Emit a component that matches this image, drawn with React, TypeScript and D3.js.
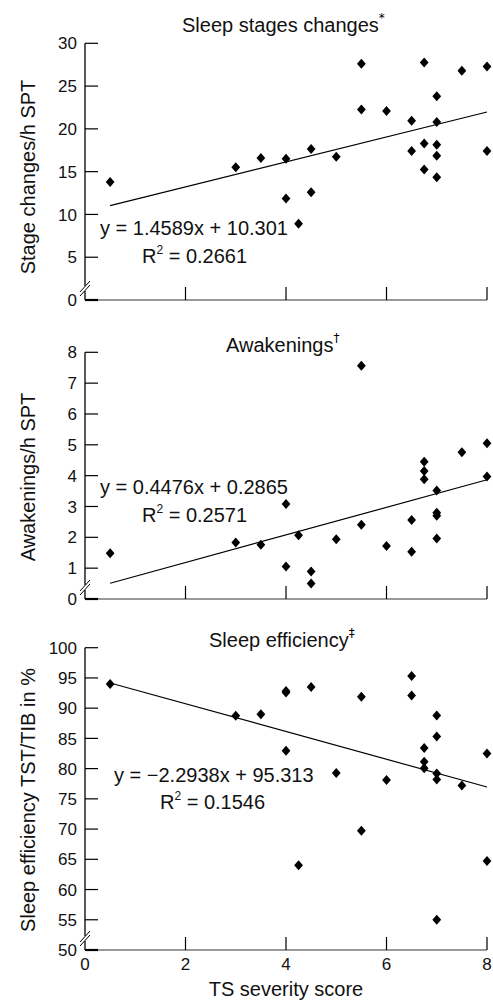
import React, { useEffect, useRef } from "react";
import * as d3 from "d3";

// TS severity score for each subject, per panel
const severityStages = [0.5, 3, 3.5, 4, 4, 4.25, 4.5, 4.5, 5, 5.5, 5.5, 6, 6.5, 6.5, 6.75, 6.75, 6.75, 7, 7, 7, 7, 7, 7.5, 8, 8];
const stageChanges = [13.8, 15.5, 16.6, 16.5, 11.85, 8.9, 17.65, 12.6, 16.75, 27.6, 22.25, 22.1, 20.96, 17.4, 27.75, 18.3, 15.25, 23.8, 20.8, 18.15, 16.85, 14.35, 26.8, 27.3, 17.4];

const severityAwake = [0.5, 3, 3.5, 4, 4, 4.25, 4.5, 4.5, 5, 5.5, 5.5, 6, 6.5, 6.5, 6.75, 6.75, 6.75, 7, 7, 7, 7, 7.5, 8, 8];
const awakenings = [1.48, 1.83, 1.76, 3.08, 1.05, 2.07, 0.89, 0.5, 1.94, 7.56, 2.41, 1.72, 2.56, 1.53, 4.45, 4.15, 3.88, 3.52, 2.8, 2.7, 1.96, 4.76, 5.05, 3.97];

const severityEff = [0.5, 3, 3.5, 4, 4, 4, 4.25, 4.5, 5, 5.5, 5.5, 6, 6.5, 6.5, 6.75, 6.75, 6.75, 7, 7, 7, 7, 7, 7.5, 8, 8];
const efficiency = [94.0, 88.75, 89.0, 92.85, 92.6, 82.97, 64.0, 93.5, 79.27, 91.9, 69.73, 78.1, 95.3, 92.1, 83.4, 81.15, 80.05, 88.8, 85.3, 79.2, 78.2, 55.0, 77.2, 82.5, 64.7];

const titles = ["Sleep stages changes", "Awakenings", "Sleep efficiency"];
const titleMarks = ["*", "\u2020", "\u2021"];
const yLabels = ["Stage changes/h SPT", "Awakenings/h SPT", "Sleep efficiency TST/TIB in %"];
const slopes = [1.4589, 0.4476, -2.2938];
const intercepts = [10.301, 0.2865, 95.313];
const equations = ["y = 1.4589x + 10.301", "y = 0.4476x + 0.2865", "y = \u22122.2938x + 95.313"];
const rSquared = ["0.2661", "0.2571", "0.1546"];
const yTicks = [
  [0, 5, 10, 15, 20, 25, 30],
  [0, 1, 2, 3, 4, 5, 6, 7, 8],
  [50, 55, 60, 65, 70, 75, 80, 85, 90, 95, 100],
];
const xTicks = [0, 2, 4, 6, 8];

const W = 493;
const H = 1003;
const FONT = "'Liberation Sans', Arial, Helvetica, sans-serif";

const App = () => {
  const ref = useRef<SVGSVGElement>(null);

  useEffect(() => {
    const svg = d3.select(ref.current);
    svg.selectAll("*").remove();

    const x = d3.scaleLinear().domain([0, 8]).range([85, 487]);

    const panels = [
      { xs: severityStages, ys: stageChanges, domain: [0, 30], range: [300, 43.3], titleX: 182, titleY: 31.5, eqX: 100, eqY: 235, rX: 142, rY: 262.5, labelY: 177, showX: false },
      { xs: severityAwake, ys: awakenings, domain: [0, 8], range: [599, 352.3], titleX: 226, titleY: 351.5, eqX: 100, eqY: 493.5, rX: 142, rY: 521.5, labelY: 477, showX: false },
      { xs: severityEff, ys: efficiency, domain: [50, 100], range: [950, 647.7], titleX: 209, titleY: 646.5, eqX: 114, eqY: 782, rX: 160, rY: 808.5, labelY: 800, showX: true },
    ];

    panels.forEach((p, i) => {
      const y = d3.scaleLinear().domain(p.domain).range(p.range);
      const b = y(p.domain[0]);
      const g = svg.append("g").attr("font-family", FONT).attr("fill", "#111");

      // y axis with break
      g.append("line").attr("x1", 85).attr("x2", 85).attr("y1", y(p.domain[1])).attr("y2", b - 14)
        .attr("stroke", "#000").attr("stroke-width", 1.3);
      g.append("line").attr("x1", 85).attr("x2", 85).attr("y1", b - 9).attr("y2", b)
        .attr("stroke", "#000").attr("stroke-width", 1.3);
      [0, 4].forEach((o) => {
        g.append("line").attr("x1", 80).attr("y1", b - 8 + o).attr("x2", 90).attr("y2", b - 19 + o)
          .attr("stroke", "#000").attr("stroke-width", 1);
      });

      // y ticks
      yTicks[i].forEach((t, k) => {
        if (k > 0) {
          g.append("line").attr("x1", 85).attr("x2", 98).attr("y1", y(t)).attr("y2", y(t))
            .attr("stroke", "#000").attr("stroke-width", 1.2);
        }
        g.append("text").attr("x", 77).attr("y", y(t)).attr("dy", "0.36em")
          .attr("text-anchor", "end").attr("font-size", 17).text(t);
      });

      // x axis
      g.append("line").attr("x1", 85).attr("x2", 487).attr("y1", b).attr("y2", b)
        .attr("stroke", "#333").attr("stroke-width", 1);
      g.append("line").attr("x1", 85).attr("x2", 98).attr("y1", b).attr("y2", b)
        .attr("stroke", "#000").attr("stroke-width", 2.2);
      xTicks.slice(1).forEach((t) => {
        g.append("line").attr("x1", x(t)).attr("x2", x(t)).attr("y1", b).attr("y2", b - 13)
          .attr("stroke", "#000").attr("stroke-width", 1.2);
      });
      if (p.showX) {
        xTicks.forEach((t) => {
          g.append("text").attr("x", x(t)).attr("y", b + 20).attr("text-anchor", "middle")
            .attr("font-size", 17).text(t);
        });
        g.append("text").attr("x", 286).attr("y", 996).attr("text-anchor", "middle")
          .attr("font-size", 20).text("TS severity score");
      }

      // y label
      g.append("text").attr("transform", `translate(35,${p.labelY}) rotate(-90)`)
        .attr("text-anchor", "middle").attr("font-size", 20).text(yLabels[i]);

      // title
      const tt = g.append("text").attr("x", p.titleX).attr("y", p.titleY).attr("font-size", 20);
      tt.append("tspan").text(titles[i]);
      tt.append("tspan").attr("dy", -10).attr("font-size", 12)
        .attr("font-family", "'DejaVu Sans', sans-serif").attr("fill", "#000")
        .style("font-variant-emoji", "text").text(titleMarks[i] + "\uFE0E");

      // regression line
      const line = d3.line<number>().x((d) => x(d)).y((d) => y(slopes[i] * d + intercepts[i]));
      g.append("path").datum([0.5, 8]).attr("d", line).attr("fill", "none")
        .attr("stroke", "#000").attr("stroke-width", 1.2);

      // equation
      g.append("text").attr("x", p.eqX).attr("y", p.eqY).attr("font-size", 20).text(equations[i]);
      const rt = g.append("text").attr("x", p.rX).attr("y", p.rY).attr("font-size", 20);
      rt.append("tspan").text("R");
      rt.append("tspan").attr("dy", -9).attr("font-size", 12).text("2");
      rt.append("tspan").attr("dy", 9).text(" = " + rSquared[i]);

      // points
      g.selectAll("path.pt").data(p.xs).enter().append("path").attr("class", "pt")
        .attr("d", (d, k) => {
          const cx = x(d);
          const cy = y(p.ys[k]);
          return `M${cx},${cy - 5}L${cx + 4.4},${cy}L${cx},${cy + 5}L${cx - 4.4},${cy}Z`;
        })
        .attr("fill", "#000");
    });
  }, []);

  return (
    <svg
      ref={ref}
      width={W}
      height={H}
      style={{ position: "absolute", left: 0, top: 0, background: "#fff" }}
    />
  );
};

export default App;
